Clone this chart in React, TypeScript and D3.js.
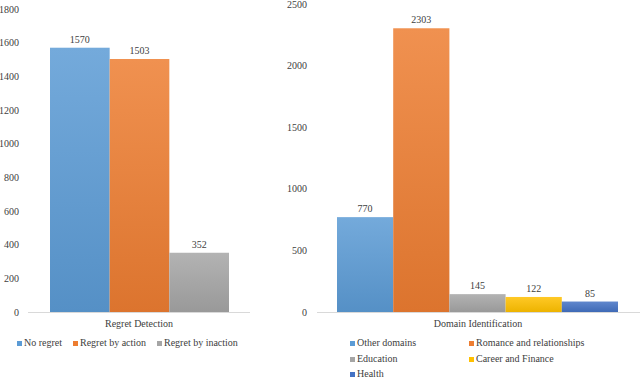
import React from "react";
import * as d3 from "d3";

const leftSeries = ["No regret", "Regret by action", "Regret by inaction"];
const leftValues = [1570, 1503, 352];
const leftTicks = [0, 200, 400, 600, 800, 1000, 1200, 1400, 1600, 1800];
const leftCategory = "Regret Detection";

const rightSeries = ["Other domains", "Romance and relationships", "Education", "Career and Finance", "Health"];
const rightValues = [770, 2303, 145, 122, 85];
const rightTicks = [0, 500, 1000, 1500, 2000, 2500];
const rightCategory = "Domain Identification";

const leftColors = ["#5B9BD5", "#ED7D31", "#A5A5A5"];
const rightColors = ["#5B9BD5", "#ED7D31", "#A5A5A5", "#FFC000", "#4472C4"];

const FF = "Liberation Serif, serif";

function Label(props: { x: number; y: number; anchor?: string; dy?: string; children: React.ReactNode }) {
  return (
    <text
      x={props.x}
      y={props.y}
      dy={props.dy}
      textAnchor={props.anchor || "start"}
      style={{ fontFamily: FF, fontSize: 10 }}
      fill="#404040"
    >
      {props.children}
    </text>
  );
}

function Panel(props: {
  id: string;
  series: string[];
  values: number[];
  colors: string[];
  ticks: number[];
  max: number;
  top: number;
  barRange: [number, number];
  axisRange: [number, number];
  tickX: number;
  category: string;
  catX: number;
}) {
  const { id, series, values, colors, ticks, max, top, barRange, axisRange, tickX, category, catX } = props;
  const y = d3.scaleLinear().domain([0, max]).range([312, top]);
  const x = d3.scaleBand<string>().domain(series).range(barRange).padding(0);
  return (
    <g>
      <defs>
        {colors.map((c, i) => {
          const light = d3.interpolateRgb(c, "#ffffff")(0.15);
          const dark = d3.interpolateRgb(c, "#000000")(0.07);
          return (
            <linearGradient key={i} id={`${id}-g${i}`} x1="0" y1="0" x2="0" y2="1">
              <stop offset="0%" stopColor={light} />
              <stop offset="100%" stopColor={dark} />
            </linearGradient>
          );
        })}
      </defs>
      {ticks.map((t) => (
        <Label key={t} x={tickX} y={y(t)} dy="0.35em" anchor="end">
          {t}
        </Label>
      ))}
      <line x1={axisRange[0]} x2={axisRange[1]} y1={y(0) + 0.5} y2={y(0) + 0.5} stroke="#D9D9D9" strokeWidth={1} />
      {series.map((s, i) => (
        <g key={s}>
          <rect
            x={x(s)}
            y={y(values[i])}
            width={x.bandwidth()}
            height={y(0) - y(values[i])}
            fill={`url(#${id}-g${i})`}
          />
          <Label x={(x(s) as number) + x.bandwidth() / 2} y={y(values[i]) - 5} anchor="middle">
            {values[i]}
          </Label>
        </g>
      ))}
      <Label x={catX} y={327} anchor="middle">
        {category}
      </Label>
    </g>
  );
}

export default function App() {
  const leftLegendX = [17, 73, 157];
  const rightLegend = [
    [350, 343],
    [469, 343],
    [350, 359],
    [469, 359],
    [350, 374],
  ];
  return (
    <svg width={640} height={378} style={{ position: "absolute", left: 0, top: 0, background: "#fff" }}>
      <Panel
        id="l"
        series={leftSeries}
        values={leftValues}
        colors={leftColors}
        ticks={leftTicks}
        max={1800}
        top={9}
        barRange={[50, 229]}
        axisRange={[28, 250]}
        tickX={19}
        category={leftCategory}
        catX={139}
      />
      <Panel
        id="r"
        series={rightSeries}
        values={rightValues}
        colors={rightColors}
        ticks={rightTicks}
        max={2500}
        top={4}
        barRange={[337, 618]}
        axisRange={[317, 640]}
        tickX={307}
        category={rightCategory}
        catX={478}
      />
      {leftSeries.map((s, i) => (
        <g key={s}>
          <rect x={leftLegendX[i]} y={341} width={5} height={5} fill={leftColors[i]} />
          <Label x={leftLegendX[i] + 7} y={346}>
            {s}
          </Label>
        </g>
      ))}
      {rightSeries.map((s, i) => (
        <g key={s}>
          <rect x={rightLegend[i][0]} y={rightLegend[i][1] - 2} width={5} height={5} fill={rightColors[i]} />
          <Label x={rightLegend[i][0] + 7} y={rightLegend[i][1] + 3}>
            {s}
          </Label>
        </g>
      ))}
    </svg>
  );
}
